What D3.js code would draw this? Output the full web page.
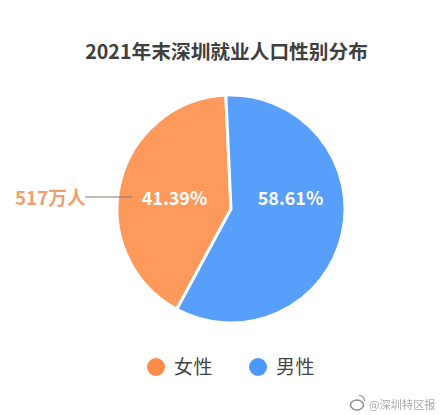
<!DOCTYPE html>
<html>
<head>
<meta charset="utf-8">
<script src="https://cdn.jsdelivr.net/npm/d3@7"></script>
<style>
  body { margin: 0; background: #fff; }
  text { font-family: "Noto Sans CJK SC", "Noto Sans", sans-serif; }
</style>
</head>
<body>
<div id="chart"></div>
<script>
var svgWidth = 440;
var svgHeight = 415;

var categories = ["女性", "男性"];
var shares = [41.39, 58.61];
var shareLabels = ["41.39%", "58.61%"];
var colors = ["#fd9a5b", "#579ffb"];
var femaleCount = "517万人";
var title = "2021年末深圳就业人口性别分布";

var svg = d3.select("#chart")
  .append("svg")
  .attr("width", svgWidth)
  .attr("height", svgHeight)
  .style("display", "block");

// Title
svg.append("text")
  .attr("x", 226.5)
  .attr("y", 59)
  .attr("text-anchor", "middle")
  .attr("font-size", 19.7)
  .attr("font-weight", 700)
  .attr("fill", "#3f3f3f")
  .text(title);

// Pie, rotated a little so the female slice ends just left of 12 o'clock
var startOffset = -2.6 * Math.PI / 180;
var pie = d3.pie()
  .sort(null)
  .startAngle(startOffset - 2 * Math.PI * shares[0] / 100)
  .endAngle(startOffset + 2 * Math.PI * shares[1] / 100);

var arc = d3.arc().innerRadius(0).outerRadius(114);

var pieGroup = svg.append("g")
  .attr("transform", "translate(231, 209)");

pieGroup.selectAll("path")
  .data(pie(shares))
  .enter()
  .append("path")
  .attr("d", arc)
  .attr("fill", (d, i) => colors[i])
  .attr("stroke", "#fff")
  .attr("stroke-width", 3);

// Slice labels
var labelX = [174.5, 290.5];
svg.selectAll(".share")
  .data(shareLabels)
  .enter()
  .append("text")
  .attr("class", "share")
  .attr("x", (d, i) => labelX[i])
  .attr("y", 205)
  .attr("text-anchor", "middle")
  .attr("font-family", "'Noto Sans', sans-serif")
  .attr("font-size", 18)
  .attr("font-weight", 700)
  .attr("fill", "#fff")
  .text(d => d);

// Callout for the female head count
svg.append("text")
  .attr("x", 15)
  .attr("y", 205)
  .attr("font-size", 18.8)
  .attr("font-weight", 700)
  .attr("fill", "#f0a06c")
  .text(femaleCount);

svg.append("line")
  .attr("x1", 85)
  .attr("x2", 132)
  .attr("y1", 197)
  .attr("y2", 197)
  .attr("stroke", "#85766c")
  .attr("stroke-width", 1);

// Legend
var legendCx = [156, 258];
var legend = svg.selectAll(".legend")
  .data(categories)
  .enter()
  .append("g")
  .attr("class", "legend");

legend.append("circle")
  .attr("cx", (d, i) => legendCx[i])
  .attr("cy", 367)
  .attr("r", 9)
  .attr("fill", (d, i) => i == 0 ? "#fd8c4a" : "#4b98fb");

legend.append("text")
  .attr("x", (d, i) => legendCx[i] + 18)
  .attr("y", 374)
  .attr("font-size", 19)
  .attr("letter-spacing", 0.5)
  .attr("fill", "#444")
  .text(d => d);

// Weibo watermark, blurred like the source image
var defs = svg.append("defs");
defs.append("filter")
  .attr("id", "soft")
  .append("feGaussianBlur")
  .attr("stdDeviation", 0.5);

var mark = svg.append("g").attr("filter", "url(#soft)");
mark.append("ellipse")
  .attr("cx", 357)
  .attr("cy", 405)
  .attr("rx", 6.5)
  .attr("ry", 5)
  .attr("fill", "none")
  .attr("stroke", "#888")
  .attr("stroke-width", 1.4);
mark.append("path")
  .attr("d", d3.arc()({ innerRadius: 5, outerRadius: 6.2, startAngle: 0, endAngle: Math.PI / 2 }))
  .attr("transform", "translate(359, 401)")
  .attr("fill", "#999");
mark.append("text")
  .attr("x", 369)
  .attr("y", 409)
  .attr("font-size", 11.2)
  .attr("fill", "#aaa")
  .text("@深圳特区报");
</script>
</body>
</html>
